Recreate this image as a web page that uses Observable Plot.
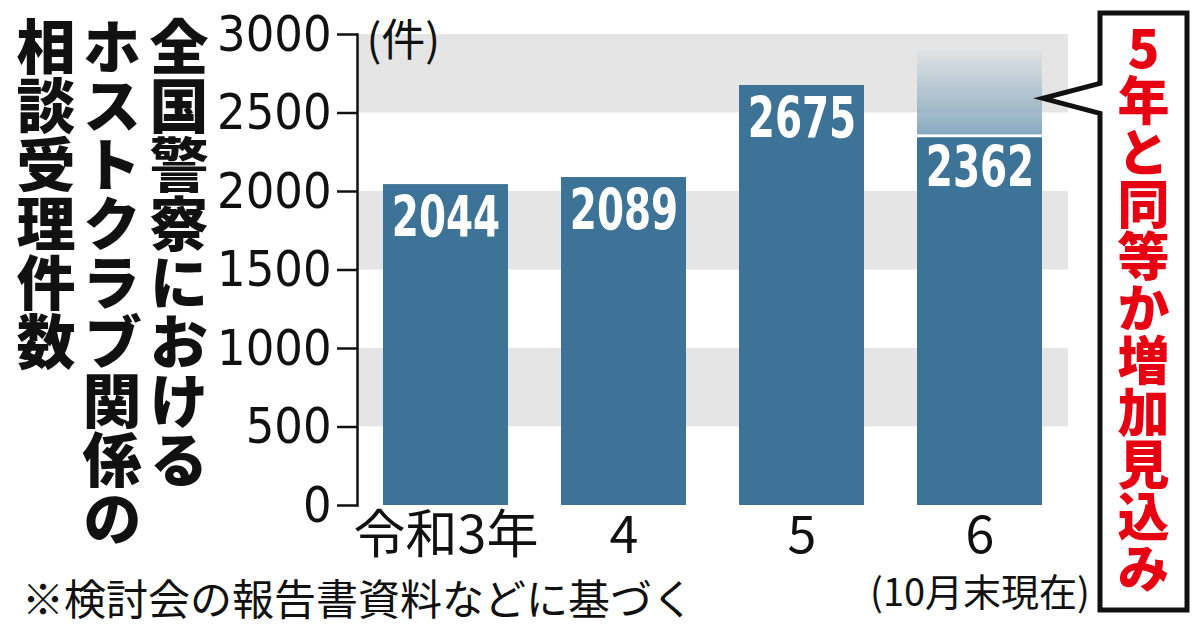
<!DOCTYPE html>
<html><head><meta charset="utf-8">
<script src="https://cdn.jsdelivr.net/npm/d3@7"></script>
<script src="https://cdn.jsdelivr.net/npm/@observablehq/plot@0.6"></script>
<style>
body{margin:0;background:#fff;}
#wrap{position:relative;width:1200px;height:637px;overflow:hidden;background:#fff;}
#wrap svg{position:absolute;left:0;top:0;}
.title{position:absolute;top:17px;writing-mode:vertical-rl;font-family:"Noto Sans CJK JP";font-weight:900;font-size:59px;line-height:1;color:#111;white-space:nowrap;}
.callout{position:absolute;left:1117px;top:22px;writing-mode:vertical-rl;text-orientation:upright;font-family:"Noto Sans CJK JP";font-weight:900;font-size:52px;line-height:1;color:#e60012;white-space:nowrap;}
.note{position:absolute;left:22px;top:576px;font-family:"Noto Sans CJK JP";font-weight:400;font-size:42px;line-height:1;color:#111;white-space:nowrap;}
</style></head><body><div id="wrap"></div>
<script>
const years = ["令和3年", "4", "5", "6"];
const notes = ["", "", "", "(10月末現在)"];
const counts = [2044, 2089, 2675, 2362];
const projectedTop = 2900;   // faded top of the projection for 令和6年
const pointerValue = 2590;   // where the callout points
const bandsLow = [500, 1500, 2500];
const bandsHigh = [1000, 2000, 3000];
const yTicks = [0, 500, 1000, 1500, 2000, 2500, 3000];
const titleLines = ["全国警察における", "ホストクラブ関係の", "相談受理件数"];
const unitLabel = "(件)";
const calloutText = "5年と同等か増加見込み";
const sourceNote = "※検討会の報告書資料などに基づく";

const rows = years.map((y, i) => ({year: y, count: counts[i], note: notes[i]}));
const bands = bandsLow.map((lo, i) => ({lo, hi: bandsHigh[i]}));
const projection = [{year: years[3], from: counts[3], to: projectedTop}];

const NS = "http://www.w3.org/2000/svg";
const numFont = "'DejaVu Sans Condensed', sans-serif";
const valFont = "'DejaVu Sans Condensed', 'DejaVu Sans', sans-serif";
const jpFont = "'Noto Sans CJK JP', sans-serif";

function defsMark() {
  const defs = document.createElementNS(NS, "defs");
  const lg = document.createElementNS(NS, "linearGradient");
  lg.setAttribute("id", "proj");
  lg.setAttribute("x1", "0"); lg.setAttribute("y1", "1");
  lg.setAttribute("x2", "0"); lg.setAttribute("y2", "0");
  [["0%", "#86a8bf", 1], ["100%", "#86a8bf", 0.04]].forEach(([o, c, a]) => {
    const s = document.createElementNS(NS, "stop");
    s.setAttribute("offset", o); s.setAttribute("stop-color", c); s.setAttribute("stop-opacity", a);
    lg.appendChild(s);
  });
  defs.appendChild(lg);
  return defs;
}

function calloutMark(index, scales, values, dims) {
  const x = scales.x;
  const tipX = x(years[3]) + (x.bandwidth ? x.bandwidth() : 125) + 1;
  const tipY = scales.y(pointerValue);
  const left = 1100, right = 1187, top = 13, bottom = 610;
  const p = document.createElementNS(NS, "path");
  p.setAttribute("d", `M${left},${tipY - 15}L${left},${top}L${right},${top}L${right},${bottom}L${left},${bottom}L${left},${tipY + 15}L${tipX},${tipY}Z`);
  p.setAttribute("fill", "white");
  p.setAttribute("stroke", "#111");
  p.setAttribute("stroke-width", 5);
  p.setAttribute("stroke-linejoin", "miter");
  return p;
}

const chart = Plot.plot({
  width: 1200, height: 637,
  marginLeft: 357, marginRight: 132, marginTop: 34, marginBottom: 132,
  style: {background: "transparent", overflow: "visible"},
  x: {domain: years, paddingInner: 0.298, paddingOuter: 0.146, axis: null},
  y: {domain: [0, 3000], axis: null},
  marks: [
    defsMark,
    Plot.rectY(bands, {y1: "lo", y2: "hi", fill: "#e5e5e5"}),
    Plot.rectY(projection, {x: "year", y1: "from", y2: "to", fill: "url(#proj)"}),
    Plot.rectY(rows, {x: "year", y: "count", fill: "#3d7396"}),
    Plot.tickY(projection, {x: "year", y: "from", stroke: "white", strokeWidth: 3, dy: 1}),
    Plot.text(rows, {x: "year", y: "count", text: d => String(d.count), dy: 34, fill: "white",
      fontSize: 57, fontWeight: "bold", fontFamily: valFont}),
    Plot.axisY({ticks: yTicks, tickSize: 20, tickPadding: 6, strokeWidth: 2.5, stroke: "#111",
      fontSize: 50, fontFamily: numFont, fill: "#111", tickFormat: d => String(d), label: null}),
    Plot.frame({anchor: "left", stroke: "#111", strokeWidth: 2.5}),
    Plot.text(rows, {x: "year", text: "year", frameAnchor: "bottom", lineAnchor: "top", dy: 11,
      fontSize: 52, fontFamily: jpFont, fill: "#111"}),
    Plot.text(rows.filter(d => d.note), {x: "year", text: "note", frameAnchor: "bottom", lineAnchor: "top", dy: 74,
      fontSize: 38, fontFamily: jpFont, fill: "#111"}),
    Plot.text([unitLabel], {text: d => d, frameAnchor: "top-left", lineAnchor: "top", textAnchor: "start", dx: 9, dy: -10,
      fontSize: 44, fontFamily: jpFont, fill: "#111"}),
    calloutMark
  ]
});

// narrow the white value labels to match the condensed bold face of the original
chart.querySelectorAll('g[font-size="57"] text').forEach(t => {
  const tr = t.getAttribute("transform") || "";
  t.setAttribute("transform", tr + " scale(0.76,1)");
});

const wrap = document.getElementById("wrap");
wrap.appendChild(chart);
const centers = [179, 112, 46];
titleLines.forEach((t, i) => {
  const d = document.createElement("div");
  d.className = "title";
  d.textContent = t;
  d.style.left = (centers[i] - 29.5) + "px";
  wrap.appendChild(d);
});
const c = document.createElement("div");
c.className = "callout"; c.textContent = calloutText; wrap.appendChild(c);
const n = document.createElement("div");
n.className = "note"; n.textContent = sourceNote; wrap.appendChild(n);
</script></body></html>
